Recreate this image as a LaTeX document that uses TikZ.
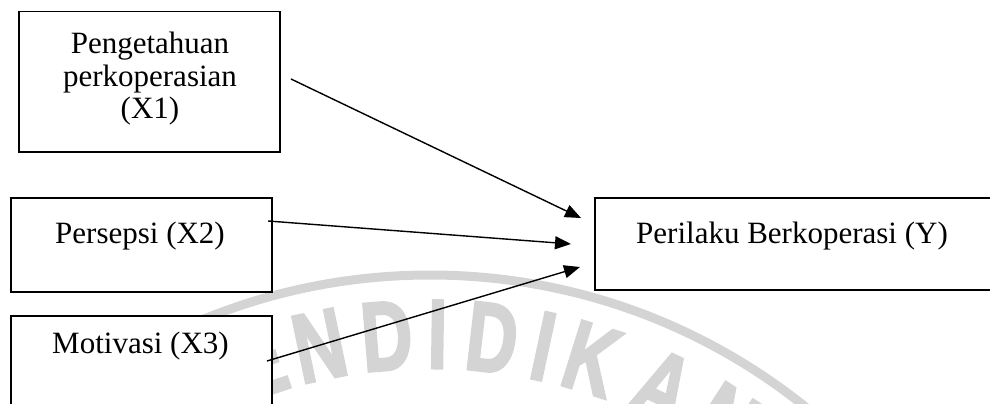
\documentclass[tikz,border=0pt]{standalone}
\usepackage{fontspec}
\setmainfont{Liberation Serif}
\newfontfamily\wmfont{Liberation Sans Bold}[FakeBold=3]
\usetikzlibrary{arrows.meta}
\begin{document}
\begin{tikzpicture}[x=1pt,y=-1pt,
  box/.style={draw=black, line width=1.5pt, fill=white, rectangle, anchor=north west, inner sep=0pt},
  lbl/.style={font=\fontsize{31}{33}\selectfont, anchor=base, inner sep=0pt},
  arr/.style={line width=1.4pt, -{Triangle[length=16pt,width=13pt]}},
  wm/.style={text=black!17, font=\wmfont\fontsize{98}{98}\selectfont, anchor=base, inner sep=0pt}]
\useasboundingbox (0,0) rectangle (990,404);
\clip (0,0) rectangle (990,404);
% faint watermark
\draw[black!17, line width=9pt] (430,875) circle[radius=600];
\foreach \a/\L [count=\i] in {-18.3/E,-11.8/N,-4.6/D,0.8/I,6.6/D,12.1/I,17.4/K,25.5/A,33/N}
  \node[wm, rotate={-(\a)}] (wm\i) at ({430+507*sin(\a)},{875-507*cos(\a)}) {\scalebox{0.72}[1]{\L}};
% boxes
\node[box, minimum width=261pt, minimum height=140pt] (b1) at (18,11) {};
\node[box, minimum width=261pt, minimum height=94pt] (b2) at (10,197) {};
\node[box, minimum width=261pt, minimum height=130pt] (b3) at (10,315) {};
\node[box, minimum width=420pt, minimum height=92pt] (by) at (594,197) {};
% texts
\node[lbl] (t1a) at (150,53) {Pengetahuan};
\node[lbl] (t1b) at (150,86) {perkoperasian};
\node[lbl] (t1c) at (150,118) {(X1)};
\node[lbl] (t2) at (140,243) {Persepsi (X2)};
\node[lbl] (t3) at (140.5,353) {Motivasi (X3)};
\node[lbl] (ty) at (792,243) {Perilaku Berkoperasi (Y)};
% arrows
\coordinate (s1) at (291,79);
\coordinate (s2) at (268,221);
\coordinate (s3) at (267,361);
\coordinate (e1) at (581,218);
\coordinate (e2) at (571,244);
\coordinate (e3) at (580,267);
\draw[arr] (s1) -- (e1);
\draw[arr] (s2) -- (e2);
\draw[arr] (s3) -- (e3);
\end{tikzpicture}
\end{document}
